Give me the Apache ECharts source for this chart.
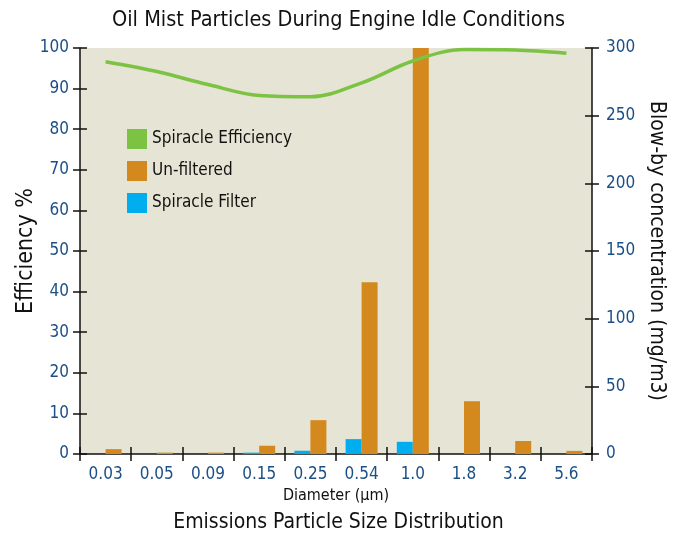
<!DOCTYPE html>
<html><head><meta charset="utf-8">
<script src="https://cdn.jsdelivr.net/npm/echarts@6/dist/echarts.min.js"></script>
<style>html,body{margin:0;padding:0;background:#fff;}#c{width:677px;height:538px;}</style>
</head><body><div id="c"></div>
<script>
const categories = ['0.03','0.05','0.09','0.15','0.25','0.54','1.0','1.8','3.2','5.6'];
const efficiency = [96.6, 94.2, 91.0, 88.3, 88.0, 91.4, 96.8, 99.6, 99.5, 98.7];
const unfiltered = [3.6, 1.0, 1.0, 6.1, 25, 127, 300, 39, 9.6, 2.3];
const spiracleFilter = [0, 0, 0, 1.0, 2.4, 11, 9, 0, 0, 0];
const leftTicks = {min: 0, max: 100, interval: 10};
const rightTicks = {min: 0, max: 300, interval: 50};

const FONT = '"Liberation Sans Narrow","DejaVu Sans Condensed","Roboto",sans-serif';
const BLUE = '#1b4f86';
const chart = echarts.init(document.getElementById('c'));
const axisLine = {show: true, lineStyle: {color: '#111', width: 1.5}};
const tickOut = {show: true, length: 7, lineStyle: {color: '#111', width: 1.5}};
const tickIn = {show: true, inside: true, length: 7, lineStyle: {color: '#111', width: 1.5}};
chart.setOption({
  backgroundColor: '#fff',
  animation: false,
  title: {text: 'Oil Mist Particles During Engine Idle Conditions', left: 'center', top: 4,
    textStyle: {fontFamily: FONT, fontSize: 21.5, fontWeight: 'normal', color: '#111'}},
  grid: {left: 80, right: 85, top: 48, bottom: 84, show: true, backgroundColor: '#e6e4d4', borderWidth: 0},
  legend: {orient: 'vertical', left: 122, top: 124, itemWidth: 20, itemHeight: 20, itemGap: 12,
    icon: 'rect', data: ['Spiracle Efficiency', 'Un-filtered', 'Spiracle Filter'],
    textStyle: {fontFamily: FONT, fontSize: 17, color: '#111'}},
  xAxis: [
    {type: 'category', data: categories, position: 'bottom', axisLine: axisLine, axisTick: tickOut,
     axisLabel: {fontFamily: FONT, fontSize: 17, color: BLUE, margin: 12},
     name: 'Diameter (µm)', nameLocation: 'middle', nameGap: 33,
     nameTextStyle: {fontFamily: FONT, fontSize: 16, color: '#111'}},
    {type: 'category', data: categories, position: 'bottom', axisLine: {show: false}, axisTick: tickIn,
     axisLabel: {show: false}}
  ],
  yAxis: [
    Object.assign({type: 'value', position: 'left', axisLine: axisLine, axisTick: tickOut, splitLine: {show: false},
     axisLabel: {fontFamily: FONT, fontSize: 17, color: BLUE, margin: 11},
     name: 'Efficiency %', nameLocation: 'middle', nameGap: 42, nameRotate: 90, nameMoveOverlap: false,
     nameTextStyle: {fontFamily: FONT, fontSize: 23, color: '#111'}}, leftTicks),
    Object.assign({type: 'value', position: 'right', axisLine: axisLine, axisTick: tickOut, splitLine: {show: false},
     axisLabel: {fontFamily: FONT, fontSize: 17, color: BLUE, margin: 14},
     name: 'Blow-by concentration (mg/m3)', nameLocation: 'middle', nameGap: 51, nameRotate: -90,
     nameTextStyle: {fontFamily: FONT, fontSize: 21, color: '#111'}}, rightTicks),
    Object.assign({type: 'value', position: 'left', axisLine: {show: false}, axisTick: tickIn,
     axisLabel: {show: false}, splitLine: {show: false}}, leftTicks),
    Object.assign({type: 'value', position: 'right', axisLine: {show: false}, axisTick: tickIn,
     axisLabel: {show: false}, splitLine: {show: false}}, rightTicks)
  ],
  graphic: [{type: 'text', left: 'center', top: 512,
    style: {text: 'Emissions Particle Size Distribution', font: '21px ' + FONT, fill: '#111'}}],
  series: [
    {name: 'Spiracle Filter', type: 'bar', yAxisIndex: 1, data: spiracleFilter, barWidth: 16, barGap: '0%',
     itemStyle: {color: '#00aeef'}},
    {name: 'Un-filtered', type: 'bar', yAxisIndex: 1, data: unfiltered, barWidth: 16, barGap: '0%',
     itemStyle: {color: '#d4891e'}},
    {name: 'Spiracle Efficiency', type: 'line', yAxisIndex: 0, data: efficiency, smooth: 0.35,
     symbol: 'none', lineStyle: {color: '#7cc243', width: 3.5}, itemStyle: {color: '#7cc243'}, z: 5}
  ]
});
</script></body></html>
